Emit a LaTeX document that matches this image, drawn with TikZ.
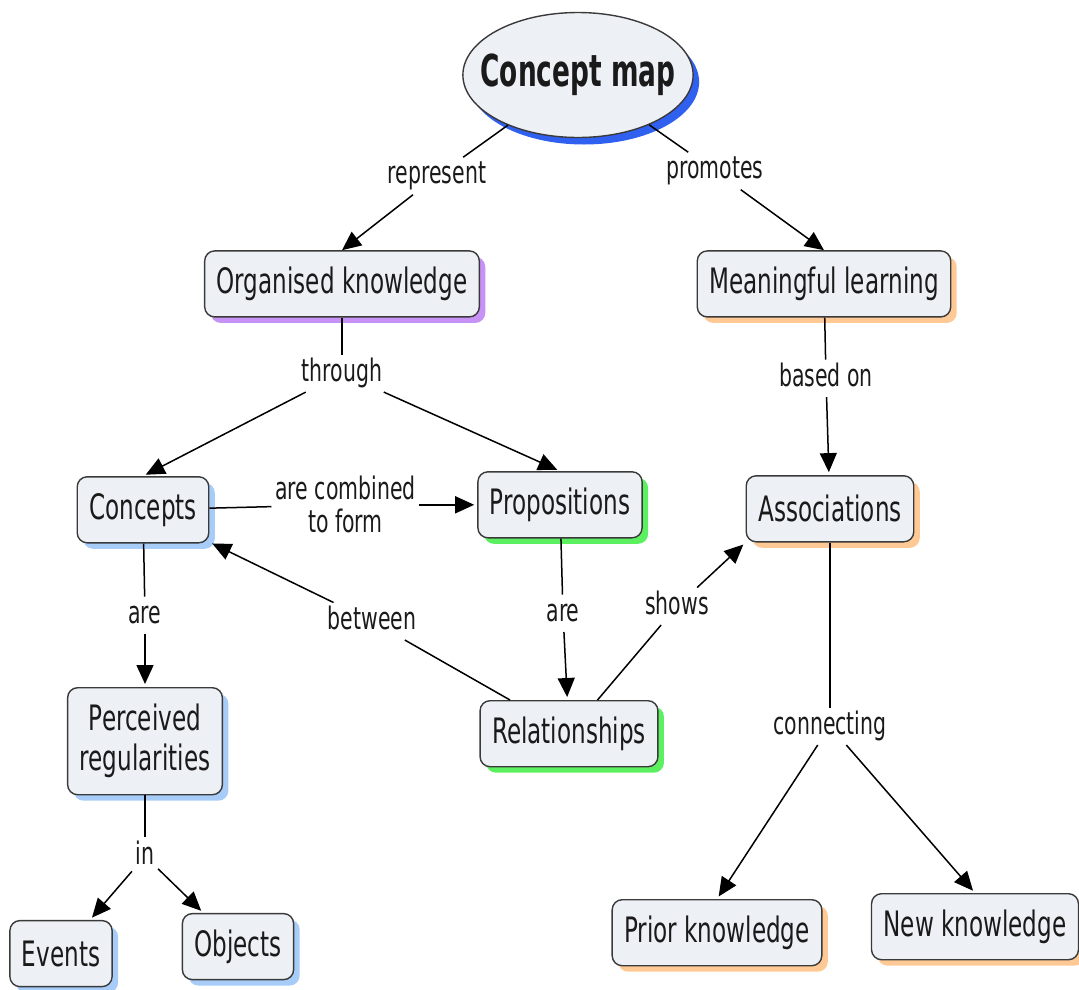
\documentclass[tikz,border=0pt]{standalone}
\usepackage{fontspec}
\setmainfont[FakeStretch=0.66]{DejaVu Sans}
\newfontfamily\rootfont[FakeStretch=0.6]{DejaVu Sans}
\usepackage{tikz}
\usetikzlibrary{shapes,shadows,positioning,arrows.meta}
\definecolor{boxfill}{HTML}{EDF1F6}
\definecolor{boxline}{HTML}{3A3A3A}
\definecolor{txt}{HTML}{1A1A1A}
\definecolor{rootsh}{HTML}{3060F0}
\definecolor{purplesh}{HTML}{C792F5}
\definecolor{orangesh}{HTML}{FFC995}
\definecolor{bluesh}{HTML}{A8CCF8}
\definecolor{greensh}{HTML}{5CF060}

\begin{document}
\begin{tikzpicture}[x=1pt, y=-1pt, >={Triangle[length=19pt,width=17pt]},
    line width=1.5pt,
    concept/.style={rectangle, rounded corners=10pt, draw=boxline, line width=1.4pt,
      fill=boxfill, text=txt, inner xsep=12pt, minimum height=66pt, align=center,
      font=\fontsize{35}{40}\selectfont,
      drop shadow={shadow xshift=6pt, shadow yshift=-6pt, fill=#1, opacity=1}},
    rootnode/.style={ellipse, draw=boxline, line width=1.4pt, fill=boxfill, text=txt,
      minimum height=125pt, inner xsep=-16pt, inner ysep=0pt,
      font=\fontsize{44}{48}\rootfont\bfseries,
      drop shadow={shadow xshift=6pt, shadow yshift=-7pt, fill=rootsh, opacity=1}},
    linkw/.style={inner sep=3pt, text=txt, align=center,
      font=\fontsize{31}{33}\selectfont, text height=23pt, text depth=7pt}]

  \useasboundingbox (0,0) rectangle (1079,989);

  % Define nodes
  \node[rootnode] (cmap) at (578,75) {Concept map};

  \node[linkw, below=19pt of cmap, xshift=-141pt] (represent) {represent};
  \node[linkw, below=14pt of cmap, xshift=137pt] (promotes) {promotes};

  \node[concept=purplesh, below=112pt of cmap, xshift=-236pt] (orgk) {Organised knowledge};
  \node[concept=orangesh, below=112pt of cmap, xshift=246pt] (meanl) {Meaningful learning};

  \node[linkw, below=37pt of orgk] (through) {through};
  \node[linkw, below=42pt of meanl, xshift=2pt] (basedon) {based on};

  \node[concept=bluesh, below=84pt of through, xshift=-199pt] (concepts) {Concepts};
  \node[concept=greensh, below=79pt of through, xshift=218pt] (props) {Propositions};
  \node[concept=orangesh, below=78pt of basedon, xshift=4pt] (assoc) {Associations};

  \node[linkw, right=62pt of concepts, yshift=5pt, text height=, text depth=] (arecomb) {are combined\\to form};

  \node[linkw, below=53pt of concepts, xshift=2pt] (are1) {are};
  \node[concept=bluesh, below=53pt of are1, minimum height=107pt] (perc) {Perceived\\regularities};
  \node[linkw, below=42pt of perc] (in) {in};
  \node[concept=bluesh, below=45pt of in, xshift=-84pt] (events) {Events};
  \node[concept=bluesh, below=38pt of in, xshift=93pt] (objects) {Objects};

  \node[linkw, below=56pt of props, xshift=3pt] (are2) {are};
  \node[concept=greensh, below=68pt of are2, xshift=6pt] (rel) {Relationships};
  \node[linkw, above=60pt of rel, xshift=-197pt] (between) {between};
  \node[linkw, above=75pt of rel, xshift=108pt] (shows) {shows};

  \node[linkw, below=165pt of assoc] (connecting) {connecting};
  \node[concept=orangesh, below=154pt of connecting, xshift=-113pt] (prior) {Prior knowledge};
  \node[concept=orangesh, below=148pt of connecting, xshift=145pt] (newk) {New knowledge};

  % Connectors
  \draw (cmap) -- (represent);
  \draw [->] (represent) -- (orgk.north);
  \draw (cmap) -- (promotes);
  \draw [->] (promotes) -- (meanl.north);

  \draw (orgk) -- (through);
  \draw [->, shorten >=3pt] (through) -- (concepts.north);
  \draw [->, shorten >=3pt] (through) -- (props.north);

  \draw (meanl) -- (basedon);
  \draw [->, shorten >=3pt] (basedon) -- (assoc);

  \draw (concepts) -- (arecomb);
  \draw [->, shorten >=3pt] (arecomb) -- (props);

  \draw (concepts) -- (are1);
  \draw [->, shorten >=3pt] (are1) -- (perc);
  \draw (perc) -- (in);
  \draw [->, shorten >=3pt] (in) -- (events);
  \draw [->, shorten >=3pt] (in) -- (objects);

  \draw (props) -- (are2);
  \draw [->, shorten >=3pt] (are2) -- (rel);
  \draw (rel) -- (between);
  \draw [->, shorten >=3pt] (between) -- (concepts);
  \draw (rel) -- (shows);
  \draw [->, shorten >=3pt] (shows) -- (assoc.south west);

  \draw (assoc) -- (connecting);
  \draw [->, shorten >=3pt] (connecting) -- (prior.north);
  \draw [->, shorten >=3pt] (connecting) -- (newk.north);

\end{tikzpicture}
\end{document}
